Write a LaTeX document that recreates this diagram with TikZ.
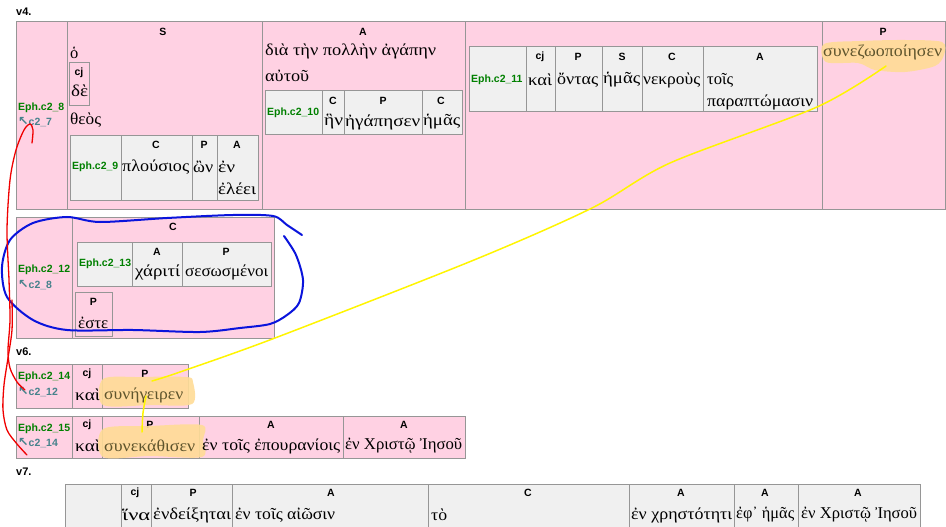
\documentclass[tikz,border=0pt]{standalone}
\usepackage{fontspec}
\usepackage{graphicx}
\setmainfont{Liberation Serif}
\setsansfont{Liberation Sans}
\newfontfamily\gkfont{Liberation Serif}
\newfontfamily\symfont{DejaVu Sans}
\definecolor{pinkc}{RGB}{255,209,227}
\definecolor{greyc}{RGB}{240,240,240}
\definecolor{bordc}{RGB}{150,150,150}
\definecolor{ephc}{RGB}{0,128,0}
\definecolor{refc}{RGB}{70,130,140}
\definecolor{hlc}{RGB}{255,220,150}
\definecolor{hltext}{RGB}{95,85,45}
\definecolor{yelc}{RGB}{255,245,0}
\definecolor{bluec}{RGB}{10,20,220}
\definecolor{redc}{RGB}{240,0,0}
\tikzset{
  pinkcell/.style={fill=pinkc,draw=bordc,line width=1pt},
  greycell/.style={fill=greyc,draw=bordc,line width=1pt},
  lab/.style={font=\sffamily\bfseries\fontsize{10.5}{12}\selectfont,inner sep=0pt,anchor=center},
  gk/.style={font=\gkfont\fontsize{16.5}{18}\selectfont,inner sep=0pt,anchor=west},
  eph/.style={font=\sffamily\bfseries\fontsize{10.5}{12}\selectfont,text=ephc,inner sep=0pt,anchor=west},
  ref/.style={font=\sffamily\bfseries\fontsize{10.5}{12}\selectfont,text=refc,inner sep=0pt,anchor=west},
  vlab/.style={font=\sffamily\bfseries\fontsize{11}{12}\selectfont,inner sep=0pt,anchor=west},
  hl/.style={fill=hlc,opacity=0.9,draw=none},
  redline/.style={draw=redc,line width=1.3pt,line cap=round},
  blueline/.style={draw=bluec,line width=2pt,line cap=round},
  yelline/.style={draw=yelc,line width=1.5pt,line cap=round}
}
\newcommand\ra{{\symfont\bfseries\fontsize{12.5}{12}\selectfont ↖}}
\newcommand\gw[2]{\resizebox{#1pt}{\height}{#2}}
\begin{document}
\begin{tikzpicture}[x=1pt,y=-1pt]
\useasboundingbox[fill=white] (0,0) rectangle (946,527);
% ---------- v4 ----------
\node[vlab] (v4) at (16,12) {v4.};
\draw[pinkcell] (16,22) rectangle (67,209);
\draw[pinkcell] (67,22) rectangle (262,209);
\draw[pinkcell] (262,22) rectangle (465,209);
\draw[pinkcell] (465,22) rectangle (822,209);
\draw[pinkcell] (822,22) rectangle (945,209);
\node[eph] (e8) at (18,108) {Eph.c2\_8};
\node[ref] (r8) at (18,122) {\ra c2\_7};
% S cell
\node[lab] (hS) at (163,32) {S};
\node[gk] (ho) at (70,53) {ὁ};
\draw[pinkcell] (69,63) rectangle (89,106);
\node[lab] (hcj1) at (79,73) {cj};
\node[gk] (de) at (71,91) {\gw{17}{δὲ}};
\node[gk] (theos) at (70,120) {\gw{31}{θεὸς}};
\draw[greycell] (70,135) rectangle (121,200);
\draw[greycell] (121,135) rectangle (192,200);
\draw[greycell] (192,135) rectangle (217,200);
\draw[greycell] (217,135) rectangle (258,200);
\node[eph] (e9) at (72,167) {Eph.c2\_9};
\node[lab] (h9C) at (156,145) {C};
\node[gk] (plous) at (122,167) {\gw{67}{πλούσιος}};
\node[lab] (h9P) at (204,145) {P};
\node[gk] (on) at (193,167) {\gw{20}{ὢν}};
\node[lab] (h9A) at (237,145) {A};
\node[gk] (en9) at (218,167) {\gw{17}{ἐν}};
\node[gk] (eleei) at (218,189) {\gw{38}{ἐλέει}};
% A cell
\node[lab] (hA) at (363,32) {A};
\node[gk] (dia) at (265,51) {\gw{171}{διὰ τὴν πολλὴν ἀγάπην}};
\node[gk] (autou) at (265,76) {\gw{44}{αὐτοῦ}};
\draw[greycell] (265,91) rectangle (322,134);
\draw[greycell] (322,91) rectangle (344,134);
\draw[greycell] (344,91) rectangle (422,134);
\draw[greycell] (422,91) rectangle (462,134);
\node[eph] (e10) at (267,113) {Eph.c2\_10};
\node[lab] (h10C) at (333,101) {C};
\node[gk] (hen) at (324,122) {\gw{19}{ἣν}};
\node[lab] (h10P) at (383,101) {P};
\node[gk] (egap) at (345,122) {\gw{75}{ἠγάπησεν}};
\node[lab] (h10C2) at (441,101) {C};
\node[gk] (hemas1) at (423,122) {\gw{37}{ἡμᾶς}};
% third cell
\draw[greycell] (469,47) rectangle (526,112);
\draw[greycell] (526,47) rectangle (555,112);
\draw[greycell] (555,47) rectangle (602,112);
\draw[greycell] (602,47) rectangle (642,112);
\draw[greycell] (642,47) rectangle (703,112);
\draw[greycell] (703,47) rectangle (817,112);
\node[eph] (e11) at (471,80) {Eph.c2\_11};
\node[lab] (h11cj) at (540,57) {cj};
\node[gk] (kai11) at (528,80) {\gw{24}{καὶ}};
\node[lab] (h11P) at (578,57) {P};
\node[gk] (ontas) at (557,80) {\gw{41}{ὄντας}};
\node[lab] (h11S) at (622,57) {S};
\node[gk] (hemas2) at (603,80) {\gw{37}{ἡμᾶς}};
\node[lab] (h11C) at (672,57) {C};
\node[gk] (nekr) at (643,80) {\gw{57}{νεκροὺς}};
\node[lab] (h11A) at (760,57) {A};
\node[gk] (tois) at (707,80) {\gw{26}{τοῖς}};
\node[gk] (parapt) at (707,102) {\gw{106}{παραπτώμασιν}};
% P cell
\node[lab] (hP) at (883,32) {P};
\fill[hl] plot[smooth cycle] coordinates {(824,44) (860,41) (905,40) (942,42) (944,55) (935,66) (905,72) (875,70) (858,63) (826,62)};
\node[gk,text=hltext] (synez) at (823,52) {\gw{119}{συνεζωοποίησεν}};
% ---------- c2_12 ----------
\draw[pinkcell] (16,217) rectangle (72,338);
\draw[pinkcell] (72,217) rectangle (274,338);
\node[eph] (e12) at (18,270) {Eph.c2\_12};
\node[ref] (r12) at (18,285) {\ra c2\_8};
\node[lab] (h12C) at (173,227) {C};
\draw[greycell] (77,242) rectangle (132,286);
\draw[greycell] (132,242) rectangle (182,286);
\draw[greycell] (182,242) rectangle (271,286);
\node[eph] (e13) at (79,264) {Eph.c2\_13};
\node[lab] (h13A) at (157,252) {A};
\node[gk] (chariti) at (135,272) {\gw{45}{χάριτί}};
\node[lab] (h13P) at (226,252) {P};
\node[gk] (seso) at (185,272) {\gw{83}{σεσωσμένοι}};
\draw[pinkcell] (75,292) rectangle (112,336);
\node[lab] (h12P) at (93.5,302) {P};
\node[gk] (este) at (78,323) {\gw{30}{ἐστε}};
% ---------- v6 ----------
\node[vlab] (v6) at (16,352) {v6.};
\draw[pinkcell] (16,364) rectangle (72,408);
\draw[pinkcell] (72,364) rectangle (102,408);
\draw[pinkcell] (102,364) rectangle (188,408);
\node[eph] (e14) at (18,377) {Eph.c2\_14};
\node[ref] (r14) at (18,392) {\ra c2\_12};
\node[lab] (h14cj) at (87,374) {cj};
\node[gk] (kai14) at (75,395) {\gw{25}{καὶ}};
\node[lab] (h14P) at (145,374) {P};
\fill[hl] plot[smooth cycle] coordinates {(103,379) (140,377) (186,377) (193,382) (192,404) (150,405) (103,405)};
\node[gk,text=hltext] (syneg) at (104,395) {\gw{79}{συνήγειρεν}};
\draw[pinkcell] (16,416) rectangle (72,458);
\draw[pinkcell] (72,416) rectangle (102,458);
\draw[pinkcell] (102,416) rectangle (199,458);
\draw[pinkcell] (199,416) rectangle (343,458);
\draw[pinkcell] (343,416) rectangle (465,458);
\node[eph] (e15) at (18,429) {Eph.c2\_15};
\node[ref] (r15) at (18,443) {\ra c2\_14};
\node[lab] (h15cj) at (87,425) {cj};
\node[gk] (kai15) at (75,446) {\gw{25}{καὶ}};
\node[lab] (h15P) at (150,425) {P};
\fill[hl] plot[smooth cycle] coordinates {(103,429) (150,426) (202,425) (203,440) (202,457) (150,456) (103,457)};
\node[gk,text=hltext] (synek) at (104,446) {\gw{91}{συνεκάθισεν}};
\node[lab] (h15A) at (271,425) {A};
\node[gk] (epour) at (202,446) {\gw{138}{ἐν τοῖς ἐπουρανίοις}};
\node[lab] (h15A2) at (404,425) {A};
\node[gk] (christ15) at (345,446) {\gw{117}{ἐν Χριστῷ Ἰησοῦ}};
% ---------- v7 ----------
\node[vlab] (v7) at (16,472) {v7.};
\begin{scope}
\clip (0,0) rectangle (946,527);
\draw[greycell] (65,484) rectangle (121,535);
\draw[greycell] (121,484) rectangle (151,535);
\draw[greycell] (151,484) rectangle (232,535);
\draw[greycell] (232,484) rectangle (428,535);
\draw[greycell] (428,484) rectangle (629,535);
\draw[greycell] (629,484) rectangle (734,535);
\draw[greycell] (734,484) rectangle (798,535);
\draw[greycell] (798,484) rectangle (920,535);
\end{scope}
\node[lab] (h7cj) at (135,493) {cj};
\node[gk] (hina) at (122,515) {\gw{28}{ἵνα}};
\node[lab] (h7P) at (193,493) {P};
\node[gk] (endeix) at (153,515) {\gw{78}{ἐνδείξηται}};
\node[lab] (h7A1) at (331,493) {A};
\node[gk] (aiosin) at (235,515) {\gw{100}{ἐν τοῖς αἰῶσιν}};
\node[lab] (h7C) at (528,493) {C};
\node[gk] (to) at (431,515) {\gw{16}{τὸ}};
\node[lab] (h7A2) at (681,493) {A};
\node[gk] (chresto) at (631,515) {\gw{101}{ἐν χρηστότητι}};
\node[lab] (h7A3) at (765,493) {A};
\node[gk] (ephh) at (736,515) {\gw{58}{ἐφ᾽ ἡμᾶς}};
\node[lab] (h7A4) at (858,493) {A};
\node[gk] (christ7) at (801,515) {\gw{116}{ἐν Χριστῷ Ἰησοῦ}};
% ---------- annotations ----------
\draw[blueline] plot[smooth] coordinates {(302,235) (287,225) (273,216) (233,215) (167,218) (100,222) (67,217) (33,223) (10,240) (2,267) (7,297) (33,320) (67,330) (133,330) (200,332) (240,328) (270,324) (287,315) (299,303) (303,280) (296,255) (284,236)};
\draw[redline] plot[smooth] coordinates {(32,143) (33,130) (30,124) (24,130) (16,150) (10,180) (7,230) (9,280) (10,320) (8,350) (10,368) (17,382) (25,390)};
\draw[redline] plot[smooth] coordinates {(12,300) (12,330) (8,358) (4,385) (3,410) (7,430) (17,444) (27,455)};
\draw[yelline] plot[smooth] coordinates {(886,66) (817,107) (670,163) (592,208) (474,260) (275,338) (180,372) (152,381)};
\draw[yelline] plot[smooth] coordinates {(146,396) (143,413) (142,432)};
\end{tikzpicture}
\end{document}
